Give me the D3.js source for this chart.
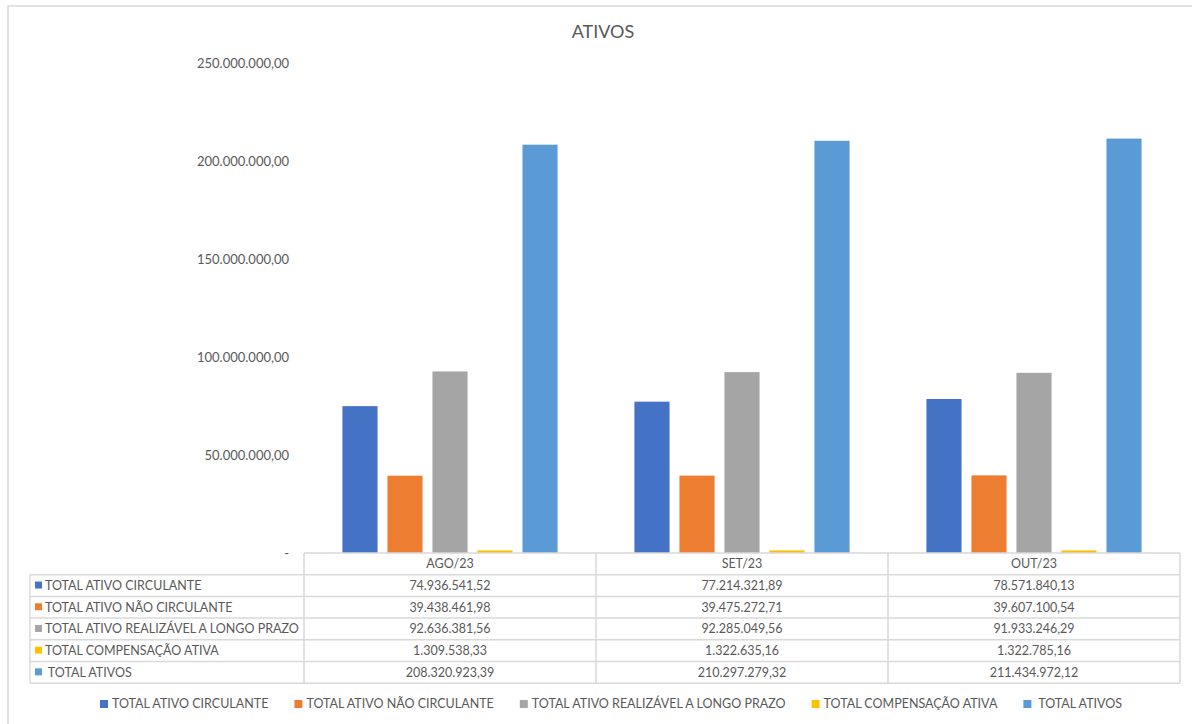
<!DOCTYPE html>
<html>
<head>
<meta charset="utf-8">
<script src="https://cdn.jsdelivr.net/npm/d3@7"></script>
<style>
  body { margin: 0; background: #fff; }
  svg { font-family: Lato, "Open Sans", sans-serif; }
  .tick line, .domain { display: none; }
</style>
</head>
<body>
<div id="chart"></div>
<script>
'use strict';

const categories = ['AGO/23', 'SET/23', 'OUT/23']
const seriesNames = [
  'TOTAL ATIVO CIRCULANTE',
  'TOTAL ATIVO NÃO CIRCULANTE',
  'TOTAL ATIVO REALIZÁVEL A LONGO PRAZO',
  'TOTAL COMPENSAÇÃO ATIVA',
  ' TOTAL ATIVOS',
]
const circulante = [74936541.52, 77214321.89, 78571840.13]
const naoCirculante = [39438461.98, 39475272.71, 39607100.54]
const realizavel = [92636381.56, 92285049.56, 91933246.29]
const compensacao = [1309538.33, 1322635.16, 1322785.16]
const totalAtivos = [208320923.39, 210297279.32, 211434972.12]
const yTicks = [0, 50000000, 100000000, 150000000, 200000000, 250000000]
const COLORS = ['#4472C4', '#ED7D31', '#A5A5A5', '#FFC000', '#5B9BD5']

const seriesValues = [circulante, naoCirculante, realizavel, compensacao, totalAtivos]

const W = 1192, H = 724
const m = {top: 63, left: 304, right: 1180, bottom: 553} // plot area box
const rowH = 21.7
const FS = 12.5
const TXT = '#595959'
const GRID = '#d9d9d9'

const br = d3.formatLocale({decimal: ',', thousands: '.', grouping: [3], currency: ['R$', '']})
const fmt = br.format(',.2f')

const svg = d3.select('#chart').append('svg')
  .attr('width', W).attr('height', H)

// outer chart frame
svg.append('rect')
  .attr('x', 8).attr('y', 6).attr('width', W + 10).attr('height', H + 10)
  .attr('fill', '#fff').attr('stroke', GRID).attr('stroke-width', 1.5)

svg.append('text')
  .attr('x', 603).attr('y', 38).attr('text-anchor', 'middle')
  .attr('font-size', 18).attr('fill', TXT).text('ATIVOS')

const x = d3.scaleBand().domain(categories).range([m.left, m.right])
const xs = d3.scaleBand().domain(d3.range(seriesNames.length))
  .range([0, x.bandwidth()]).paddingInner(0.22).paddingOuter(0.854)
const y = d3.scaleLinear().domain([0, 250000000]).range([m.bottom, m.top])

const yAxis = d3.axisLeft(y).tickValues(yTicks).tickSize(0).tickPadding(0)
  .tickFormat(d => d === 0 ? '-' : fmt(d))
svg.append('g')
  .attr('transform', 'translate(289,0)')
  .call(yAxis)
  .call(g => g.selectAll('text').attr('fill', TXT).attr('font-size', 13)
    .attr('font-family', 'Lato, sans-serif'))

// bars
const groups = svg.append('g').selectAll('g')
  .data(categories).enter().append('g')
  .attr('transform', d => 'translate(' + x(d) + ',0)')

groups.selectAll('rect')
  .data((c, ci) => seriesValues.map((vals, si) => ({si, v: vals[ci]})))
  .enter().append('rect')
  .attr('x', d => xs(d.si))
  .attr('width', xs.bandwidth())
  .attr('y', d => y(d.v))
  .attr('height', d => y(0) - y(d.v))
  .attr('fill', d => COLORS[d.si])

// data table
const table = svg.append('g')
const tLeft = 30
const top0 = m.bottom
const lineAttr = sel => sel.attr('stroke', GRID).attr('stroke-width', 1.5)

// horizontal lines
d3.range(seriesNames.length + 2).forEach(i => {
  const yy = top0 + i * rowH
  table.append('line').call(lineAttr)
    .attr('x1', i === 0 ? m.left : tLeft).attr('x2', m.right)
    .attr('y1', yy).attr('y2', yy)
})
// vertical lines
const vx = [tLeft].concat(categories.map(c => x(c)), [m.right])
vx.forEach((xx, i) => {
  table.append('line').call(lineAttr)
    .attr('x1', xx).attr('x2', xx)
    .attr('y1', i === 0 ? top0 + rowH : top0)
    .attr('y2', top0 + rowH * (seriesNames.length + 1))
})

// header
table.selectAll('.hdr').data(categories).enter().append('text')
  .attr('x', d => x(d) + x.bandwidth() / 2).attr('y', top0 + rowH / 2)
  .attr('dy', '0.35em').attr('text-anchor', 'middle')
  .attr('font-size', FS).attr('fill', TXT).text(d => d)

seriesNames.forEach((name, si) => {
  const cy = top0 + rowH * (si + 1) + rowH / 2
  table.append('rect')
    .attr('x', 35).attr('y', cy - 4).attr('width', 7).attr('height', 7)
    .attr('fill', COLORS[si])
  table.append('text')
    .attr('x', 45).attr('y', cy).attr('dy', '0.35em')
    .attr('font-size', FS).attr('fill', TXT)
    .style('white-space', 'pre')
    .text(name)
  categories.forEach((c, ci) => {
    table.append('text')
      .attr('x', x(c) + x.bandwidth() / 2).attr('y', cy).attr('dy', '0.35em')
      .attr('text-anchor', 'middle').attr('font-size', FS).attr('fill', TXT)
      .text(fmt(seriesValues[si][ci]))
  })
})

// legend
const legend = svg.append('g')
const items = legend.selectAll('g').data(seriesNames).enter().append('g')
items.append('rect')
  .attr('width', 8).attr('height', 8).attr('y', -4)
  .attr('fill', (d, i) => COLORS[i])
items.append('text')
  .attr('x', 12).attr('dy', '0.35em')
  .attr('font-size', FS).attr('fill', TXT)
  .style('white-space', 'pre')
  .text(d => d)
let cx = 0
const gap = 26
items.each(function () {
  const w = 12 + this.querySelector('text').getComputedTextLength()
  d3.select(this).attr('transform', 'translate(' + cx + ',0)')
  cx += w + gap
})
const total = cx - gap
legend.attr('transform', 'translate(' + (611 - total / 2) + ',704)')
</script>
</body>
</html>
